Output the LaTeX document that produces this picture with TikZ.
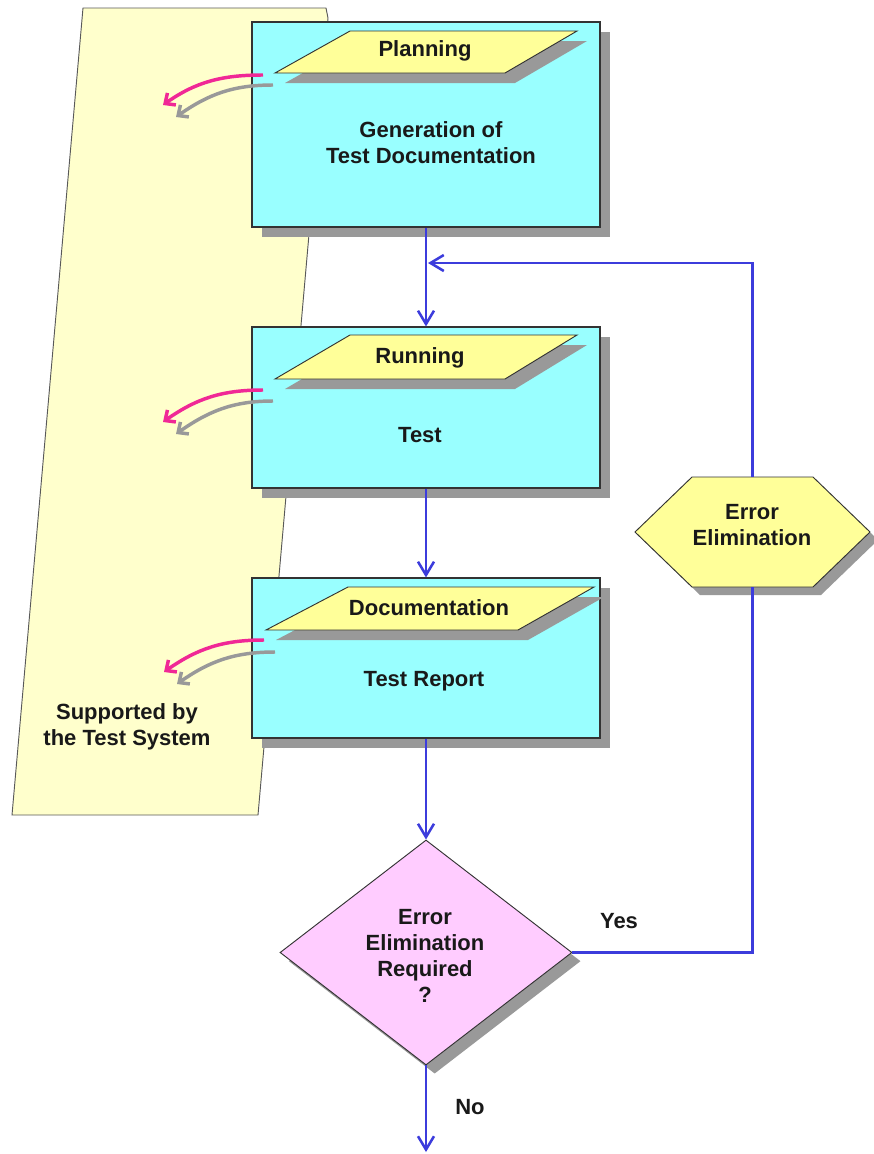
\documentclass[tikz,border=0pt]{standalone}
\usepackage{fontspec}
\setmainfont{Liberation Sans}
\usetikzlibrary{arrows.meta,shapes.geometric,shadows}
\definecolor{panelc}{HTML}{FFFFCC}
\definecolor{boxc}{HTML}{99FFFF}
\definecolor{parac}{HTML}{FFFF99}
\definecolor{diac}{HTML}{FFCCFF}
\definecolor{flowc}{RGB}{60,60,220}
\definecolor{magc}{RGB}{240,40,150}
\definecolor{shadc}{HTML}{999999}
\begin{document}
\begin{tikzpicture}[x=0.75pt,y=-0.75pt,
  txt/.style={font=\fontsize{16.5}{19.5}\selectfont\bfseries, align=center, text=black!90, inner sep=0pt},
  shad/.style={drop shadow={shadow xshift=7.5pt, shadow yshift=-7.5pt, fill=shadc, opacity=1}},
  stepbox/.style={draw=black!80, line width=0.8pt, fill=boxc, minimum width=261pt, inner sep=0pt, shad},
  para/.style={draw=black!80, line width=0.7pt, fill=parac, shad},
  flow/.style={draw=flowc, line width=1.9pt},
  flowarrow/.style={flow, -{Straight Barb[length=10pt,width=12pt]}},
  backarrow/.style={draw=magc, line width=2.6pt, -{Straight Barb[length=6pt,width=11pt]}},
  backshadow/.style={draw=shadc, line width=2.6pt, -{Straight Barb[length=6pt,width=11pt]}},
]
\useasboundingbox (0,0) rectangle (874,1154);
\fill[white] (0,0) rectangle (874,1154);

% support panel
\path[draw=black!65, line width=0.7pt, fill=panelc] (83,8) -- (326,8) -- (328,18) -- (258,815) -- (12,815) -- cycle;

% boxes
\node[stepbox, minimum height=153.75pt] (b1) at (426,124.5) {};
\node[stepbox, minimum height=120.75pt] (b2) at (426,407.5) {};
\node[stepbox, minimum height=120pt] (b3) at (426,658) {};

% parallelograms
\path[para] (350,31) -- (577,31) -- (505,73) -- (275,73) -- cycle;
\path[para] (350,335) -- (577,335) -- (505,379) -- (275,379) -- cycle;
\path[para] (348,587) -- (594,587) -- (518,630) -- (266,630) -- cycle;

\node[txt] (p1) at (425,51) {Planning};
\node[txt] (p2) at (420,358) {Running};
\node[txt] (p3) at (429,608) {Documentation};

\node[txt] (t1) at (431,143) {Generation of\\Test Documentation};
\node[txt] (t2) at (420,435) {Test};
\node[txt] (t3) at (424,681) {Test Report};

% curved arrows to the support panel
\draw[backshadow] (273,85) to[out=180,in=35] (176,117);
\draw[backarrow] (263,75) to[out=180,in=35] (163,105);
\draw[backshadow] (273,401) to[out=180,in=35] (176,434);
\draw[backarrow] (263,390) to[out=180,in=35] (163,422);
\draw[backshadow] (275,652) to[out=180,in=35] (177,684);
\draw[backarrow] (264,640) to[out=180,in=35] (164,672);

\node[txt] (sup) at (127,727) {Supported by\\the Test System};

% decision diamond
\node[diamond, draw=black!80, line width=0.7pt, fill=diac, minimum width=219pt, minimum height=168.75pt, inner sep=0pt,
  drop shadow={shadow xshift=6.5pt, shadow yshift=-6.5pt, fill=shadc, opacity=1}] (dia) at (426,952.5) {};
\node[txt] (dt) at (425,956) {Error\\Elimination\\Required\\?};

% error elimination hexagon
\node[minimum width=90.75pt, minimum height=82.5pt, inner sep=0pt] (hex) at (752.5,532) {};
\path[draw=black!80, line width=0.7pt, fill=parac,
  drop shadow={shadow xshift=6pt, shadow yshift=-6pt, fill=shadc, opacity=1}]
  (692,477) -- (813,477) -- (870,532) -- (813,587) -- (692,587) -- (635,532) -- cycle;
\node[txt] (ht) at (752,525) {Error\\Elimination};

% flow connectors
\draw[flowarrow] (b1.south) -- (b2.north);
\draw[flowarrow] (b2.south) -- (b3.north);
\draw[flowarrow] (b3.south) -- (dia.north);
\coordinate (out) at (426,1152);
\draw[flowarrow] (dia.south) -- (out);
\draw[flow] (dia.east) -| (hex.south);
\coordinate (j) at (428,263);
\draw[flowarrow] (hex.north) |- (j);

\node[txt] (yes) at (619,921) {Yes};
\node[txt] (no) at (470,1107) {No};
\end{tikzpicture}
\end{document}
